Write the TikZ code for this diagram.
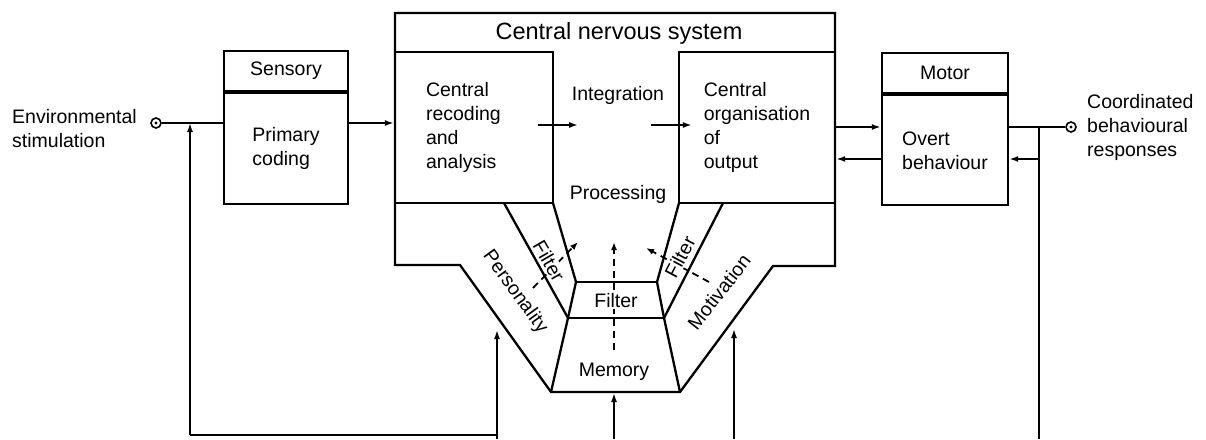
\documentclass[tikz,border=0pt]{standalone}
\usepackage{fontspec}
\setmainfont{Liberation Sans}
\usetikzlibrary{arrows.meta,calc}

\begin{document}
\begin{tikzpicture}[x=1pt, y=-1pt,
    every node/.style={inner sep=0pt, font=\fontsize{19.5}{24}\selectfont},
    box/.style={draw, line width=2.3pt},
    conn/.style={line width=2pt},
    thinconn/.style={line width=1.6pt},
    arr/.style={-{Latex[length=9pt, width=6pt]}},
    dasharr/.style={line width=1.8pt, dash pattern=on 7pt off 5pt, -{Latex[length=8pt, width=6pt]}},
    term/.style={circle, draw, line width=1.6pt, minimum size=10pt},
    lbl/.style={fill=white, inner sep=1pt}
  ]
  \useasboundingbox (0,0) rectangle (1206,439);

  \node[anchor=west, align=left] (envtext) at (12,128.5) {Environmental\\stimulation};
  \node[term] (envin) at (156,123) {};
  \fill (envin) circle (1.6);
  \node[box, minimum width=124pt, minimum height=40pt] (senshead) at (286,71) {Sensory};
  \node[box, minimum width=124pt, minimum height=111pt, anchor=north, align=left] (sensbody) at (senshead.south) {Primary\\coding};

  \draw[box, line join=miter] (395,13) -- (835,13) -- (835,266) -- (773,266) -- (680,392) -- (551,392) -- (460,265) -- (395,265) -- cycle;
  \node[font=\fontsize{23.5}{28}\selectfont] (cnstitle) at (619,33) {Central nervous system};
  \node[box, minimum width=158pt, minimum height=151pt, text width=96pt, align=left] (cnsleft) at (474,127.5) {Central\\recoding\\and\\analysis};
  \node[box, minimum width=156pt, minimum height=151pt, align=left] (cnsright) at (757,127.5) {Central\\organisation\\of\\output};
  \node (integ) at (618,95) {Integration};
  \node (proc) at (618,194) {Processing};
  \coordinate (mid) at (618,125);
  \draw[conn, arr] ($(cnsleft.east |- mid)+(-16,0)$) -- ($(cnsleft.east |- mid)+(24,0)$);
  \draw[conn, arr] ($(cnsright.west |- mid)+(-27,0)$) -- ($(cnsright.west |- mid)+(14,0)$);

  \node (mem) at (614,372) {Memory};
  \coordinate (fl) at (549,261);
  \coordinate (fr) at (680,257);
  \draw[dasharr] ($(mem)+(0,-22)$) -- ($(mem)+(0,-130)$);
  \draw[dasharr] ($(fl)+(-16,27)$) -- ($(fl)+(29,-19)$);
  \draw[dasharr] ($(fr)+(29,25)$) -- ($(fr)+(-34,-9)$);
  \node[lbl] (filtc) at (616,301) {Filter};
  \node[lbl, rotate=-60] (filtl) at (fl) {Filter};
  \node[lbl, rotate=62] (filtr) at (fr) {Filter};
  \node[rotate=-54] (pers) at (515,292) {Personality};
  \node[rotate=52] (motiv) at (719,292) {Motivation};
  \draw[box] (504,203) -- (568,318) -- (551,392);
  \draw[box] (553,203) -- (576,282) -- (568,318);
  \draw[box] (723,203) -- (664,318) -- (680,392);
  \draw[box] (679,203) -- (657,282) -- (664,318);
  \draw[box] (576,282) -- (657,282);
  \draw[box] (568,318) -- (664,318);

  \node[box, minimum width=126pt, minimum height=40pt] (mothead) at (945,73) {Motor};
  \node[box, minimum width=126pt, minimum height=110pt, anchor=north, align=left] (motbody) at (mothead.south) {Overt\\behaviour};
  \node[term] (outc) at (1071,127) {};
  \fill (outc) circle (1.6);
  \node[anchor=west, align=left] (resptext) at (1087,127) {Coordinated\\behavioural\\responses};

  \coordinate (fbl) at (190,435);
  \coordinate (persin) at (497,439);
  \coordinate (memin) at (614,439);
  \coordinate (motin) at (734,439);
  \coordinate (fbr) at (1039,439);
  \coordinate (fbk) at (1039,159);

  \draw[conn] (envin) -- (envin -| sensbody.west);
  \draw[conn, arr] (sensbody.east |- envin) -- (cnsleft.west |- envin);
  \draw[thinconn, arr] (fbl) -- (fbl |- envin);
  \draw[thinconn] (fbl) -- (fbl -| persin);
  \draw[thinconn, arr] (persin) -- ++(0,-109);
  \draw[thinconn, arr] (memin) -- ++(0,-46);
  \draw[thinconn, arr] (motin) -- ++(0,-110);

  \draw[conn, arr] (cnsright.east |- outc) -- (motbody.west |- outc);
  \draw[conn, arr] (motbody.west |- fbk) -- (cnsright.east |- fbk);
  \draw[conn] (motbody.east |- outc) -- (outc);
  \draw[thinconn] (fbr) -- (fbr |- outc);
  \draw[conn, arr] (fbk) -- (motbody.east |- fbk);
\end{tikzpicture}
\end{document}
